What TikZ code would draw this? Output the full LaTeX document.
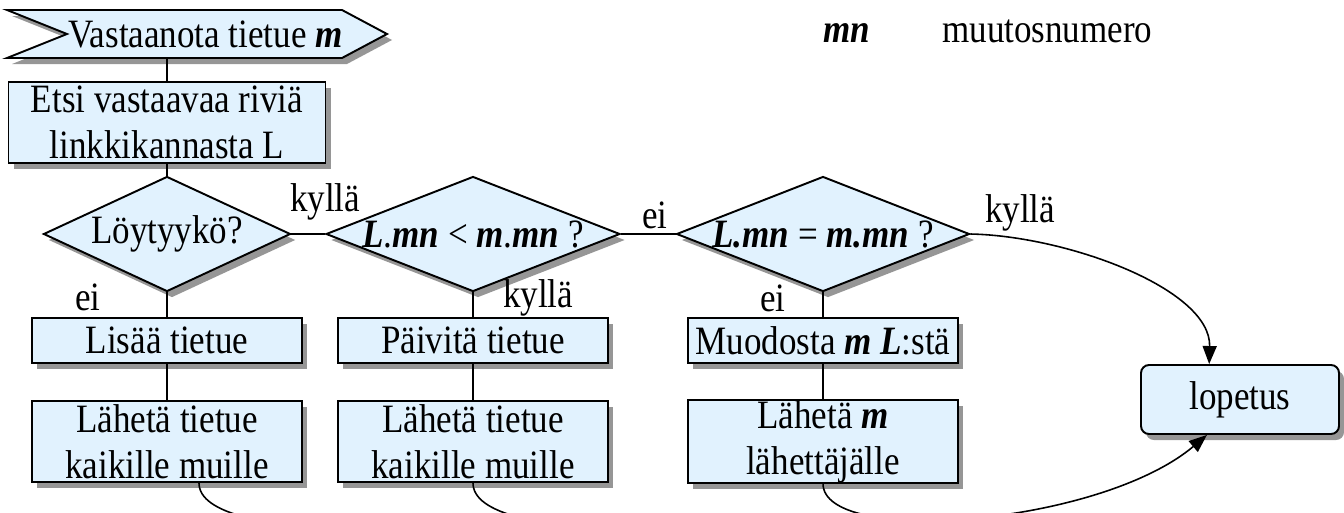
\documentclass[tikz,border=0pt]{standalone}
\usepackage{fontspec}
\setmainfont[FakeStretch=0.87]{Liberation Serif}
\usetikzlibrary{shapes.geometric,shadows,arrows.meta}
\definecolor{boxblue}{RGB}{225,242,254}
\definecolor{shadowgray}{RGB}{150,150,150}
\newcommand{\bi}[1]{\textbf{\textit{#1}}}

\begin{document}
\begin{tikzpicture}[
                every node/.style={font=\fontsize{22.9}{26}\selectfont, inner sep=0pt},
                shade3d/.style={drop shadow={shadow xshift=0.1cm, shadow yshift=-0.12cm, fill=shadowgray, opacity=1}},
                flag/.style={draw, line width=1.1pt, fill=boxblue, shade3d},
                proc/.style={rectangle, draw, line width=1.1pt, fill=boxblue, shade3d, align=center, minimum width=5.4cm, minimum height=0.9cm},
                decide/.style={diamond, draw, line width=1.1pt, fill=boxblue, shade3d, minimum height=2.3cm},
                stopbox/.style={rectangle, rounded corners=0.16cm, draw, line width=1.1pt, fill=boxblue, shade3d, minimum width=3.96cm, minimum height=1.38cm},
                link/.style={line width=0.9pt},
                arr/.style={link, -{Triangle[length=0.36cm,width=0.28cm]}}
                ]
                \useasboundingbox (0,0) rectangle (26.88,-10.24);
                \clip (0,0) rectangle (26.88,-10.24);
                \draw[flag] (0.14,-0.2)--(6.84,-0.2)--(7.74,-0.68)--(6.84,-1.16)--(0.14,-1.16)--(1.34,-0.68)--cycle;
                \node (recv) at (4.11,-0.68) [minimum height=0.96cm] {Vastaanota tietue \bi{m}};
                \node[proc, minimum width=6.34cm, minimum height=1.62cm] (etsi) at (3.34,-2.45) {Etsi vastaavaa riviä\\linkkikannasta L};
                \node[decide, minimum width=4.94cm, label={center:Löytyykö?}] (d1) at (3.34,-4.68) {};
                \node[decide, minimum width=5.88cm, label={center:{\bi{L}.\bi{mn} < \bi{m}.\bi{mn} ?}}] (d2) at (9.46,-4.68) {};
                \node[decide, minimum width=5.86cm, label={center:{\bi{L.mn} = \bi{m.mn} ?}}] (d3) at (16.46,-4.68) {};
                \node[proc] (lisaa) at (3.34,-6.81) {Lisää tietue};
                \node[proc] (paivita) at (9.46,-6.81) {Päivitä tietue};
                \node[proc] (muodosta) at (16.46,-6.81) {Muodosta \bi{m} \bi{L}:stä};
                \node[proc, minimum height=1.62cm] (laheta1) at (3.34,-8.83) {Lähetä tietue\\kaikille muille};
                \node[proc, minimum height=1.62cm] (laheta2) at (9.46,-8.83) {Lähetä tietue\\kaikille muille};
                \node[proc, minimum height=1.62cm] (laheta3) at (16.46,-8.83) {Lähetä \bi{m}\\lähettäjälle};
                \node[stopbox] (lopetus) at (24.8,-7.99) {lopetus};
                \node (mn) at (16.46,-0.84) [anchor=base west] {\bi{mn}};
                \node (selite) at (18.84,-0.84) [anchor=base west] {muutosnumero};
                \node (k1) at (6.5,-4.04) {kyllä};
                \node (e2) at (13.1,-4.3) {ei};
                \node (k3) at (20.4,-4.26) {kyllä};
                \node (e1) at (1.76,-5.94) {ei};
                \node (k2) at (10.76,-5.96) {kyllä};
                \node (e3) at (15.46,-5.96) {ei};
                \coordinate (ulos1) at (11.98,-10.8);
                \coordinate (ulos2) at (17.36,-10.8);
                \draw[link] (recv.south -| etsi.north) -- (etsi.north);
                \draw[link] (etsi) -- (d1);
                \draw[link] (d1) -- (d2);
                \draw[link] (d2) -- (d3);
                \draw[link] (d1) -- (lisaa);
                \draw[link] (lisaa) -- (laheta1);
                \draw[link] (d2) -- (paivita);
                \draw[link] (paivita) -- (laheta2);
                \draw[link] (d3) -- (muodosta);
                \draw[link] (muodosta) -- (laheta3);
                \draw[arr] (d3.east) .. controls +(1.94,-0.04) and +(0.04,1.5) .. (lopetus.131);
                \draw[arr] (laheta3.south) .. controls +(0,-1.26) and +(-2.16,-1.82) .. (lopetus.227);
                \draw[link] ([xshift=0.64cm]laheta1.south) .. controls +(0,-1.26) and +(-2.4,0.2) .. (ulos1);
                \draw[link] (laheta2.south) .. controls +(0,-1.26) and +(-2.4,0.2) .. (ulos2);
\end{tikzpicture}
\end{document}
